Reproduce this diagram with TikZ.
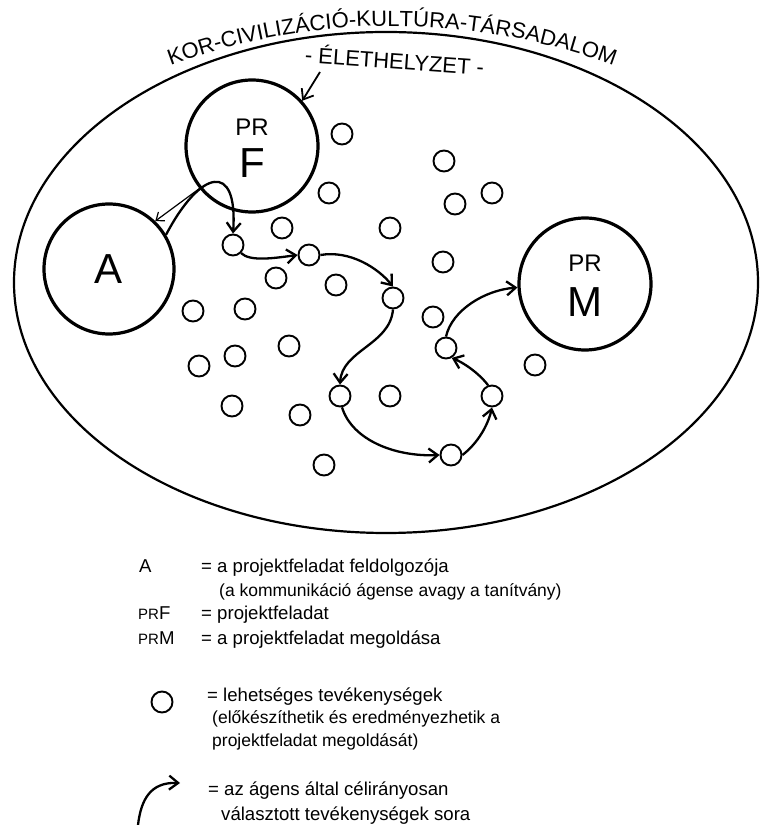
\documentclass[tikz,border=0pt]{standalone}
\usepackage{fontspec}
\setmainfont{Liberation Sans}
\usetikzlibrary{arrows.meta, calc, positioning, decorations.text}

\begin{document}
\begin{tikzpicture}[x=1pt, y=1pt, >={Straight Barb[length=9pt, width=14pt]},
    bigcirc/.style={draw, circle, line width=3.2pt, inner sep=0pt, minimum size=132pt},
    act/.style={draw, circle, line width=1.9pt, inner sep=0pt, minimum size=21pt},
    bigtext/.style={inner sep=0pt, font=\fontsize{42}{42}\selectfont},
    prtext/.style={inner sep=0pt, font=\fontsize{24}{24}\selectfont},
    legtext/.style={anchor=base west, inner sep=0pt, font=\fontsize{18.6}{22}\selectfont},
    legsmall/.style={legtext, font=\fontsize{17.5}{21}\selectfont},
    walk/.style={->, line width=2.3pt}]
    \useasboundingbox (0,0) rectangle (761,825);

    % the surrounding world
    \draw[line width=2.2pt] (386,542.5) ellipse [x radius=372pt, y radius=250.5pt];
    \path[decorate, decoration={text along path, text align=center,
        text={|\fontsize{22}{22}\selectfont|KOR-CIVILIZÁCIÓ-KULTÚRA-TÁRSADALOM}}]
        (121.5,739) arc[start angle=115, end angle=65, radius=640pt];
    \node[anchor=base, rotate=-4, inner sep=0pt, font=\fontsize{22}{22}\selectfont] (elet) at (394,756) {- ÉLETHELYZET -};
    \coordinate (eletfoot) at (320,753);

    % task, agent, solution
    \node[bigcirc] (F) at (252,679) {};
    \node[prtext] (Fpr) at ([yshift=19pt]F.center) {PR};
    \node[bigtext] (Fbig) at ([yshift=-17pt]F.center) {F};
    \node[bigcirc, minimum size=130pt, font=\fontsize{42}{42}\selectfont] (A) at (109,556) {A};
    \node[bigcirc] (M) at (585,541) {};
    \node[prtext] (Mpr) at ([yshift=21pt]M.center) {PR};
    \node[bigtext] (Mbig) at ([yshift=-18pt]M.center) {M};

    % possible activities
    \node[act] (s1) at (342,691) {};
    \node[act] (s2) at (444,664) {};
    \node[act] (s3) at (329,632) {};
    \node[act] (s4) at (455,621) {};
    \node[act] (s5) at (492,632) {};
    \node[act] (s6) at (282,597) {};
    \node[act] (s7) at (390,597) {};
    \node[act] (s8) at (443,563) {};
    \node[act] (s9) at (276,547) {};
    \node[act] (s10) at (336,540) {};
    \node[act] (s11) at (193,514) {};
    \node[act] (s12) at (245,516) {};
    \node[act] (s13) at (433,508) {};
    \node[act] (s14) at (289,479) {};
    \node[act] (s15) at (235,469) {};
    \node[act] (s16) at (199,459) {};
    \node[act] (s17) at (535,460) {};
    \node[act] (s18) at (390,429) {};
    \node[act] (s19) at (232,419) {};
    \node[act] (s20) at (300,410) {};
    \node[act] (s21) at (324,360) {};

    % chosen activities
    \node[act] (n1) at (233,580) {};
    \node[act] (n2) at (309,570) {};
    \node[act] (n3) at (393,527) {};
    \node[act] (n4) at (340,429) {};
    \node[act] (n5) at (451,370) {};
    \node[act] (n6) at (492,429) {};
    \node[act] (n7) at (446,477) {};

    \draw[->, line width=1.8pt] (eletfoot) -- (F.42);
    \draw[line width=1.2pt, -{Straight Barb[length=7pt, width=11pt]}] (F.219) -- (A.46);
    \draw[walk] (A.31) .. controls (200,655) and (238,665) .. (n1.north);
    \draw[walk] (n1.-45) .. controls (250,563) and (275,567) .. (n2.west);
    \draw[walk] (n2.east) .. controls (350,575) and (378,557) .. (n3.north);
    \draw[walk] (n3.south) .. controls (390,480) and (342,475) .. (n4.north);
    \draw[walk] (n4.-80) .. controls (352,385) and (395,368) .. (n5.west);
    \draw[walk] (n5.east) .. controls (478,382) and (488,400) .. (n6.south);
    \draw[walk] (n6.110) .. controls (478,453) and (462,463) .. (n7.-60);
    \draw[walk] (n7.north) .. controls (452,515) and (485,535) .. (M.183);

    % legend
    \node[legtext] (kA) at (139,252) {A};
    \node[legtext] (dA) at (201,252) {= a projektfeladat feldolgozója};
    \node[legsmall] (dA2) at (219,228) {(a kommunikáció ágense avagy a tanítvány)};
    \node[legtext] (kF) at (138,205) {{\fontsize{15}{15}\selectfont PR}F};
    \node[legtext] (dF) at (201,205) {= projektfeladat};
    \node[legtext] (kM) at (138,180) {{\fontsize{15}{15}\selectfont PR}M};
    \node[legtext] (dM) at (201,180) {= a projektfeladat megoldása};
    \node[act] (kact) at (162,123) {};
    \node[legtext] (dact) at (207,123) {= lehetséges tevékenységek};
    \node[legsmall] (dact2) at (212,101) {(előkészíthetik és eredményezhetik a};
    \node[legsmall] (dact3) at (212,78) {projektfeladat megoldását)};
    \coordinate (legtail) at (138,0);
    \coordinate (legtip) at (180,42);
    \draw[walk] (legtail) .. controls (141,25) and (150,43) .. (legtip);
    \node[legtext] (dwalk) at (208,29) {= az ágens által célirányosan};
    \node[legtext] (dwalk2) at (221,5) {választott tevékenységek sora};
\end{tikzpicture}
\end{document}
